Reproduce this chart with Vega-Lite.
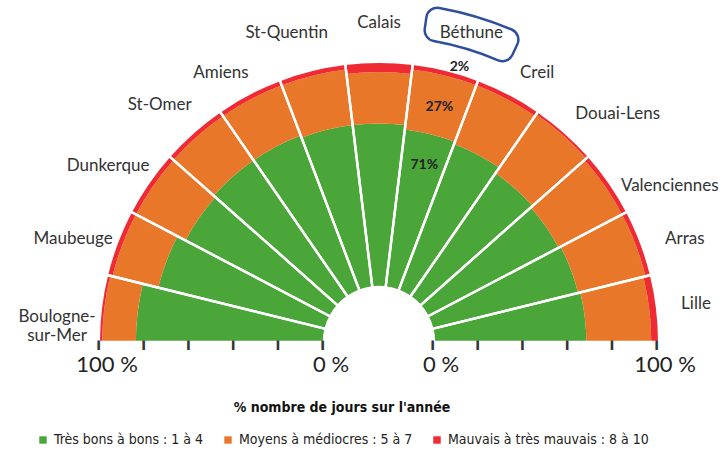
{
  "$schema": "https://vega.github.io/schema/vega-lite/v6.json",
  "autosize": {"type": "none"},
  "width": 686,
  "height": 342,
  "padding": {"left": 36, "top": 0, "right": 1, "bottom": 108},
  "background": "white",
  "config": {"view": {"stroke": null}, "font": "Lato"},
  "datasets": {
    "qualite": [
      {"ville": "Boulogne-\nsur-Mer", "niveau": "Très bons à bons : 1 à 4", "part": 0.84},
      {"ville": "Boulogne-\nsur-Mer", "niveau": "Moyens à médiocres : 5 à 7", "part": 0.15},
      {"ville": "Boulogne-\nsur-Mer", "niveau": "Mauvais à très mauvais : 8 à 10", "part": 0.01},
      {"ville": "Maubeuge", "niveau": "Très bons à bons : 1 à 4", "part": 0.77},
      {"ville": "Maubeuge", "niveau": "Moyens à médiocres : 5 à 7", "part": 0.21},
      {"ville": "Maubeuge", "niveau": "Mauvais à très mauvais : 8 à 10", "part": 0.02},
      {"ville": "Dunkerque", "niveau": "Très bons à bons : 1 à 4", "part": 0.73},
      {"ville": "Dunkerque", "niveau": "Moyens à médiocres : 5 à 7", "part": 0.25},
      {"ville": "Dunkerque", "niveau": "Mauvais à très mauvais : 8 à 10", "part": 0.02},
      {"ville": "St-Omer", "niveau": "Très bons à bons : 1 à 4", "part": 0.74},
      {"ville": "St-Omer", "niveau": "Moyens à médiocres : 5 à 7", "part": 0.24},
      {"ville": "St-Omer", "niveau": "Mauvais à très mauvais : 8 à 10", "part": 0.02},
      {"ville": "Amiens", "niveau": "Très bons à bons : 1 à 4", "part": 0.74},
      {"ville": "Amiens", "niveau": "Moyens à médiocres : 5 à 7", "part": 0.24},
      {"ville": "Amiens", "niveau": "Mauvais à très mauvais : 8 à 10", "part": 0.02},
      {"ville": "St-Quentin", "niveau": "Très bons à bons : 1 à 4", "part": 0.73},
      {"ville": "St-Quentin", "niveau": "Moyens à médiocres : 5 à 7", "part": 0.25},
      {"ville": "St-Quentin", "niveau": "Mauvais à très mauvais : 8 à 10", "part": 0.02},
      {"ville": "Calais", "niveau": "Très bons à bons : 1 à 4", "part": 0.73},
      {"ville": "Calais", "niveau": "Moyens à médiocres : 5 à 7", "part": 0.23},
      {"ville": "Calais", "niveau": "Mauvais à très mauvais : 8 à 10", "part": 0.04},
      {"ville": "Béthune", "niveau": "Très bons à bons : 1 à 4", "part": 0.71},
      {"ville": "Béthune", "niveau": "Moyens à médiocres : 5 à 7", "part": 0.27},
      {"ville": "Béthune", "niveau": "Mauvais à très mauvais : 8 à 10", "part": 0.02},
      {"ville": "Creil", "niveau": "Très bons à bons : 1 à 4", "part": 0.70},
      {"ville": "Creil", "niveau": "Moyens à médiocres : 5 à 7", "part": 0.28},
      {"ville": "Creil", "niveau": "Mauvais à très mauvais : 8 à 10", "part": 0.02},
      {"ville": "Douai-Lens", "niveau": "Très bons à bons : 1 à 4", "part": 0.67},
      {"ville": "Douai-Lens", "niveau": "Moyens à médiocres : 5 à 7", "part": 0.32},
      {"ville": "Douai-Lens", "niveau": "Mauvais à très mauvais : 8 à 10", "part": 0.01},
      {"ville": "Valenciennes", "niveau": "Très bons à bons : 1 à 4", "part": 0.66},
      {"ville": "Valenciennes", "niveau": "Moyens à médiocres : 5 à 7", "part": 0.32},
      {"ville": "Valenciennes", "niveau": "Mauvais à très mauvais : 8 à 10", "part": 0.02},
      {"ville": "Arras", "niveau": "Très bons à bons : 1 à 4", "part": 0.67},
      {"ville": "Arras", "niveau": "Moyens à médiocres : 5 à 7", "part": 0.31},
      {"ville": "Arras", "niveau": "Mauvais à très mauvais : 8 à 10", "part": 0.02},
      {"ville": "Lille", "niveau": "Très bons à bons : 1 à 4", "part": 0.68},
      {"ville": "Lille", "niveau": "Moyens à médiocres : 5 à 7", "part": 0.29},
      {"ville": "Lille", "niveau": "Mauvais à très mauvais : 8 à 10", "part": 0.03}
    ],
    "graduations": [
      {"cote": "gauche", "part": 0, "etiquette": "0 %"},
      {"cote": "gauche", "part": 0.2, "etiquette": ""},
      {"cote": "gauche", "part": 0.4, "etiquette": ""},
      {"cote": "gauche", "part": 0.6, "etiquette": ""},
      {"cote": "gauche", "part": 0.8, "etiquette": ""},
      {"cote": "gauche", "part": 1, "etiquette": "100 %"},
      {"cote": "droite", "part": 0, "etiquette": "0 %"},
      {"cote": "droite", "part": 0.2, "etiquette": ""},
      {"cote": "droite", "part": 0.4, "etiquette": ""},
      {"cote": "droite", "part": 0.6, "etiquette": ""},
      {"cote": "droite", "part": 0.8, "etiquette": ""},
      {"cote": "droite", "part": 1, "etiquette": "100 %"}
    ]
  },
  "resolve": {"scale": {"theta": "independent"}},
  "layer": [
    {
      "data": {"name": "qualite"},
      "mark": {"type": "arc", "y": "height"},
      "encoding": {
        "theta": {"field": "ville", "type": "nominal", "scale": {"type": "band", "domain": ["Boulogne-\nsur-Mer", "Maubeuge", "Dunkerque", "St-Omer", "Amiens", "St-Quentin", "Calais", "Béthune", "Creil", "Douai-Lens", "Valenciennes", "Arras", "Lille"], "range": [-1.5707963, 1.5707963], "paddingInner": 0, "paddingOuter": 0}},
        "radius": {"field": "part", "type": "quantitative", "stack": true, "scale": {"type": "linear", "domain": [0, 1], "range": [55, 279], "zero": false, "nice": false}},
        "color": {
          "field": "niveau", "type": "nominal",
          "scale": {"domain": ["Très bons à bons : 1 à 4", "Moyens à médiocres : 5 à 7", "Mauvais à très mauvais : 8 à 10"], "range": ["#4ba63a", "#e9772a", "#ef2a33"]},
          "legend": {
            "orient": "bottom", "direction": "horizontal",
            "title": "% nombre de jours sur l'année", "titleAnchor": "middle", "titleLimit": 600,
            "titleFont": "Liberation Sans Narrow, DejaVu Sans Condensed, sans-serif", "titleFontWeight": "bold", "titleFontSize": 14, "titleColor": "#111", "titlePadding": 18,
            "symbolType": "square", "symbolSize": 55, "symbolStrokeWidth": 0,
            "labelFont": "Liberation Sans Narrow, DejaVu Sans Condensed, sans-serif", "labelFontSize": 14, "labelColor": "#222", "labelLimit": 300,
            "columnPadding": 17, "offset": 59
          }
        },
        "order": {"field": "niveau", "sort": "descending"}
      }
    },
    {
      "data": {"name": "qualite"},
      "transform": [{"filter": "datum.niveau === 'Mauvais à très mauvais : 8 à 10'"}],
      "mark": {"type": "arc", "y": "height", "filled": false, "stroke": "white", "strokeWidth": 2.4},
      "encoding": {
        "theta": {"field": "ville", "type": "nominal", "scale": {"type": "band", "domain": ["Boulogne-\nsur-Mer", "Maubeuge", "Dunkerque", "St-Omer", "Amiens", "St-Quentin", "Calais", "Béthune", "Creil", "Douai-Lens", "Valenciennes", "Arras", "Lille"], "range": [-1.5707963, 1.5707963], "paddingInner": 0, "paddingOuter": 0}},
        "radius": {"datum": 1.06, "type": "quantitative", "scale": {"type": "linear", "domain": [0, 1], "range": [55, 279], "zero": false, "nice": false}},
        "radius2": {"datum": 0}
      }
    },
    {
      "data": {"name": "qualite"},
      "transform": [{"filter": "datum.niveau === 'Très bons à bons : 1 à 4' && indexof(['St-Quentin', 'Béthune'], datum.ville) >= 0"}],
      "mark": {"type": "text", "y": "height", "font": "Lato", "fontSize": 17, "color": "#333", "lineBreak": "\n", "align": "center", "baseline": "middle"},
      "encoding": {
        "theta": {"field": "ville", "type": "nominal", "scale": {"type": "band", "domain": ["Boulogne-\nsur-Mer", "Maubeuge", "Dunkerque", "St-Omer", "Amiens", "St-Quentin", "Calais", "Béthune", "Creil", "Douai-Lens", "Valenciennes", "Arras", "Lille"], "range": [-1.885, 1.885], "paddingInner": 0, "paddingOuter": 0}},
        "radius": {"datum": 1.196, "type": "quantitative", "scale": {"type": "linear", "domain": [0, 1], "range": [55, 279], "zero": false, "nice": false}},
        "text": {"field": "ville"}
      }
    },
    {
      "data": {"name": "qualite"},
      "transform": [{"filter": "datum.niveau === 'Très bons à bons : 1 à 4' && indexof(['Amiens', 'Creil'], datum.ville) >= 0"}],
      "mark": {"type": "text", "y": "height", "font": "Lato", "fontSize": 17, "color": "#333", "lineBreak": "\n", "align": "center", "baseline": "middle"},
      "encoding": {
        "theta": {"field": "ville", "type": "nominal", "scale": {"type": "band", "domain": ["Boulogne-\nsur-Mer", "Maubeuge", "Dunkerque", "St-Omer", "Amiens", "St-Quentin", "Calais", "Béthune", "Creil", "Douai-Lens", "Valenciennes", "Arras", "Lille"], "range": [-1.728, 1.728], "paddingInner": 0, "paddingOuter": 0}},
        "radius": {"datum": 1.147, "type": "quantitative", "scale": {"type": "linear", "domain": [0, 1], "range": [55, 279], "zero": false, "nice": false}},
        "text": {"field": "ville"}
      }
    },
    {
      "data": {"name": "qualite"},
      "transform": [{"filter": "datum.niveau === 'Très bons à bons : 1 à 4' && indexof(['Douai-Lens', 'Valenciennes'], datum.ville) >= 0"}],
      "mark": {"type": "text", "y": "height", "font": "Lato", "fontSize": 17, "color": "#333", "lineBreak": "\n", "align": "center", "baseline": "middle"},
      "encoding": {
        "theta": {"field": "ville", "type": "nominal", "scale": {"type": "band", "domain": ["Boulogne-\nsur-Mer", "Maubeuge", "Dunkerque", "St-Omer", "Amiens", "St-Quentin", "Calais", "Béthune", "Creil", "Douai-Lens", "Valenciennes", "Arras", "Lille"], "range": [-1.751, 1.751], "paddingInner": 0, "paddingOuter": 0}},
        "radius": {"datum": 1.228, "type": "quantitative", "scale": {"type": "linear", "domain": [0, 1], "range": [55, 279], "zero": false, "nice": false}},
        "text": {"field": "ville"}
      }
    },
    {
      "data": {"name": "qualite"},
      "transform": [{"filter": "datum.niveau === 'Très bons à bons : 1 à 4' && indexof(['Boulogne-\\nsur-Mer', 'Maubeuge', 'Dunkerque', 'St-Omer', 'Arras'], datum.ville) >= 0"}],
      "mark": {"type": "text", "y": "height", "font": "Lato", "fontSize": 17, "color": "#333", "lineBreak": "\n", "align": "center", "baseline": "middle"},
      "encoding": {
        "theta": {"field": "ville", "type": "nominal", "scale": {"type": "band", "domain": ["Boulogne-\nsur-Mer", "Maubeuge", "Dunkerque", "St-Omer", "Amiens", "St-Quentin", "Calais", "Béthune", "Creil", "Douai-Lens", "Valenciennes", "Arras", "Lille"], "range": [-1.618, 1.618], "paddingInner": 0, "paddingOuter": 0}},
        "radius": {"datum": 1.196, "type": "quantitative", "scale": {"type": "linear", "domain": [0, 1], "range": [55, 279], "zero": false, "nice": false}},
        "text": {"field": "ville"}
      }
    },
    {
      "data": {"name": "qualite"},
      "transform": [{"filter": "datum.niveau === 'Très bons à bons : 1 à 4' && indexof(['Calais', 'Lille'], datum.ville) >= 0"}],
      "mark": {"type": "text", "y": "height", "font": "Lato", "fontSize": 17, "color": "#333", "lineBreak": "\n", "align": "center", "baseline": "middle"},
      "encoding": {
        "theta": {"field": "ville", "type": "nominal", "scale": {"type": "band", "domain": ["Boulogne-\nsur-Mer", "Maubeuge", "Dunkerque", "St-Omer", "Amiens", "St-Quentin", "Calais", "Béthune", "Creil", "Douai-Lens", "Valenciennes", "Arras", "Lille"], "range": [-1.5707963, 1.5707963], "paddingInner": 0, "paddingOuter": 0}},
        "radius": {"datum": 1.18, "type": "quantitative", "scale": {"type": "linear", "domain": [0, 1], "range": [55, 279], "zero": false, "nice": false}},
        "text": {"field": "ville"}
      }
    },
    {
      "data": {"name": "qualite"},
      "transform": [{"filter": "datum.ville === 'Béthune' && datum.niveau === 'Très bons à bons : 1 à 4'"}],
      "mark": {"type": "arc", "y": "height", "filled": false, "stroke": "#2f4e9f", "strokeWidth": 2.5, "cornerRadius": 11},
      "encoding": {
        "theta": {"field": "ville", "type": "nominal", "scale": {"type": "band", "domain": ["Boulogne-\nsur-Mer", "Maubeuge", "Dunkerque", "St-Omer", "Amiens", "St-Quentin", "Calais", "Béthune", "Creil", "Douai-Lens", "Valenciennes", "Arras", "Lille"], "range": [-1.885, 1.885], "paddingInner": 0, "paddingOuter": 0}},
        "radius": {"datum": 1.27, "type": "quantitative", "scale": {"type": "linear", "domain": [0, 1], "range": [55, 279], "zero": false, "nice": false}},
        "radius2": {"datum": 1.12}
      }
    },
    {
      "data": {"name": "qualite"},
      "transform": [{"filter": "datum.ville === 'Béthune'"}],
      "mark": {"type": "text", "y": "height", "font": "Lato", "fontWeight": "bold", "fontSize": 14, "color": "#222", "align": "center", "baseline": "middle"},
      "encoding": {
        "theta": {"field": "ville", "type": "nominal", "scale": {"type": "band", "domain": ["Boulogne-\nsur-Mer", "Maubeuge", "Dunkerque", "St-Omer", "Amiens", "St-Quentin", "Calais", "Béthune", "Creil", "Douai-Lens", "Valenciennes", "Arras", "Lille"], "range": [-1.634, 1.634], "paddingInner": 0, "paddingOuter": 0}},
        "radius": {"field": "part", "type": "quantitative", "stack": true, "bandPosition": 0.8, "scale": {"type": "linear", "domain": [0, 1], "range": [55, 279], "zero": false, "nice": false}},
        "detail": {"field": "niveau"},
        "order": {"field": "niveau", "sort": "descending"},
        "text": {"condition": {"test": "datum.niveau === 'Très bons à bons : 1 à 4'", "field": "part", "type": "quantitative", "format": ".0%"}, "value": ""}
      }
    },
    {
      "data": {"name": "qualite"},
      "transform": [{"filter": "datum.ville === 'Béthune'"}],
      "mark": {"type": "text", "y": "height", "font": "Lato", "fontWeight": "bold", "fontSize": 14, "color": "#222", "align": "center", "baseline": "middle"},
      "encoding": {
        "theta": {"field": "ville", "type": "nominal", "scale": {"type": "band", "domain": ["Boulogne-\nsur-Mer", "Maubeuge", "Dunkerque", "St-Omer", "Amiens", "St-Quentin", "Calais", "Béthune", "Creil", "Douai-Lens", "Valenciennes", "Arras", "Lille"], "range": [-1.634, 1.634], "paddingInner": 0, "paddingOuter": 0}},
        "radius": {"field": "part", "type": "quantitative", "stack": true, "bandPosition": 0.48, "scale": {"type": "linear", "domain": [0, 1], "range": [55, 279], "zero": false, "nice": false}},
        "detail": {"field": "niveau"},
        "order": {"field": "niveau", "sort": "descending"},
        "text": {"condition": {"test": "datum.niveau === 'Moyens à médiocres : 5 à 7'", "field": "part", "type": "quantitative", "format": ".0%"}, "value": ""}
      }
    },
    {
      "data": {"name": "qualite"},
      "transform": [{"filter": "datum.ville === 'Béthune' && datum.niveau === 'Mauvais à très mauvais : 8 à 10'"}],
      "mark": {"type": "text", "y": "height", "font": "Lato", "fontWeight": "bold", "fontSize": 14, "color": "#222", "align": "center", "baseline": "middle"},
      "encoding": {
        "theta": {"field": "ville", "type": "nominal", "scale": {"type": "band", "domain": ["Boulogne-\nsur-Mer", "Maubeuge", "Dunkerque", "St-Omer", "Amiens", "St-Quentin", "Calais", "Béthune", "Creil", "Douai-Lens", "Valenciennes", "Arras", "Lille"], "range": [-1.85, 1.85], "paddingInner": 0, "paddingOuter": 0}},
        "radius": {"datum": 1.035, "type": "quantitative", "scale": {"type": "linear", "domain": [0, 1], "range": [55, 279], "zero": false, "nice": false}},
        "text": {"field": "part", "type": "quantitative", "format": ".0%"}
      }
    },
    {
      "data": {"name": "graduations"},
      "mark": {"type": "text", "y": "height", "text": "▌", "font": "DejaVu Sans Mono", "fontSize": 8, "color": "#333", "align": "center", "baseline": "top"},
      "encoding": {
        "theta": {"field": "cote", "type": "nominal", "scale": {"type": "point", "domain": ["gauche", "droite"], "range": [-1.5707963, 1.5707963], "padding": 0}},
        "radius": {"field": "part", "type": "quantitative", "scale": {"type": "linear", "domain": [0, 1], "range": [55, 279], "zero": false, "nice": false}}
      }
    },
    {
      "data": {"name": "graduations"},
      "transform": [{"filter": "datum.etiquette !== ''"}],
      "mark": {"type": "text", "y": "height", "font": "Lato", "fontSize": 22, "color": "#222", "align": "center", "baseline": "middle", "dy": 23, "dx": 7},
      "encoding": {
        "theta": {"field": "cote", "type": "nominal", "scale": {"type": "point", "domain": ["gauche", "droite"], "range": [-1.5707963, 1.5707963], "padding": 0}},
        "radius": {"field": "part", "type": "quantitative", "scale": {"type": "linear", "domain": [0, 1], "range": [55, 279], "zero": false, "nice": false}},
        "text": {"field": "etiquette"}
      }
    }
  ]
}
